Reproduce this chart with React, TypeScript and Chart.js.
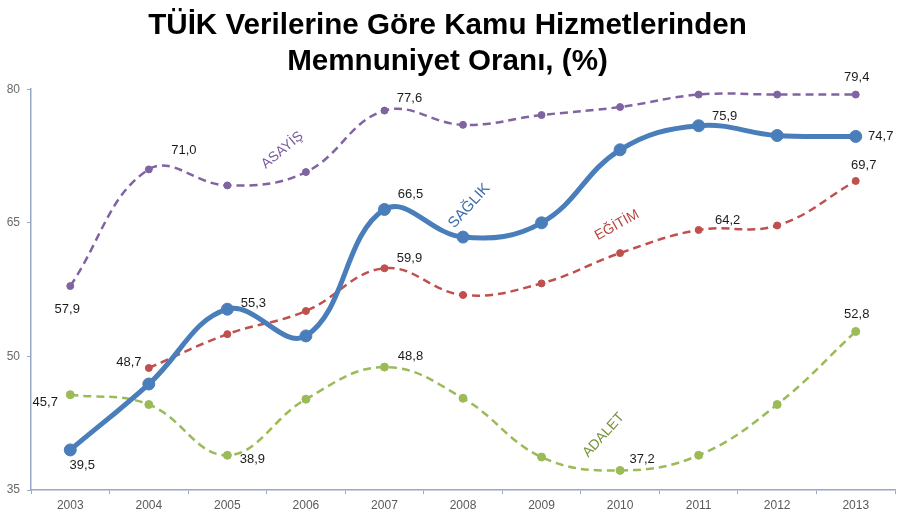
import { useEffect, useRef } from 'react';
import { Chart, registerables } from 'chart.js';

Chart.register(...registerables);

// Survey years
const years = ['2003', '2004', '2005', '2006', '2007', '2008', '2009', '2010', '2011', '2012', '2013'];

// Satisfaction rates (%) per public service
const saglik = [39.5, 46.9, 55.3, 52.3, 66.5, 63.4, 65.0, 73.2, 75.9, 74.8, 74.7];
const asayis = [57.9, 71.0, 69.2, 70.7, 77.6, 76.0, 77.1, 78.0, 79.4, 79.4, 79.4];
const egitim = [null, 48.7, 52.5, 55.1, 59.9, 56.9, 58.2, 61.6, 64.2, 64.7, 69.7];
const adalet = [45.7, 44.6, 38.9, 45.2, 48.8, 45.3, 38.7, 37.2, 38.9, 44.6, 52.8];

const seriesNames = ['SAĞLIK', 'ASAYİŞ', 'EĞİTİM', 'ADALET'];
const yTicks = [35, 50, 65, 80];

const titleLines = ['TÜİK Verilerine Göre Kamu Hizmetlerinden', 'Memnuniyet Oranı, (%)'];

const FONT = "'Liberation Sans', Arial, sans-serif";
const AXIS_COLOR = '#98A8C8';

// Which points carry a value label, and where the label sits relative to the point (px)
const valueLabels: { ds: number; i: number; dx: number; dy: number }[][] = [
  [
    { ds: 0, i: 0, dx: 12, dy: 15 },
    { ds: 0, i: 2, dx: 26, dy: -6 },
    { ds: 0, i: 4, dx: 26, dy: -15 },
    { ds: 0, i: 8, dx: 26, dy: -9 },
    { ds: 0, i: 10, dx: 25, dy: 0 },
  ],
  [
    { ds: 1, i: 0, dx: -3, dy: 23 },
    { ds: 1, i: 1, dx: 35, dy: -19 },
    { ds: 1, i: 4, dx: 25, dy: -12 },
    { ds: 1, i: 10, dx: 1, dy: -17 },
  ],
  [
    { ds: 2, i: 1, dx: -20, dy: -6 },
    { ds: 2, i: 4, dx: 25, dy: -10 },
    { ds: 2, i: 8, dx: 29, dy: -10 },
    { ds: 2, i: 10, dx: 8, dy: -16 },
  ],
  [
    { ds: 3, i: 0, dx: -25, dy: 8 },
    { ds: 3, i: 2, dx: 25, dy: 4 },
    { ds: 3, i: 4, dx: 26, dy: -11 },
    { ds: 3, i: 7, dx: 22, dy: -11 },
    { ds: 3, i: 10, dx: 1, dy: -17 },
  ],
];

// Rotated series names, anchored in data space (category index, value)
const nameTags = [
  { text: seriesNames[0], x: 5.08, y: 66.9, angle: -48, color: '#3D6CA8', size: 15 },
  { text: seriesNames[1], x: 2.7, y: 73.15, angle: -40, color: '#7A5B9E', size: 14 },
  { text: seriesNames[2], x: 6.96, y: 64.74, angle: -29, color: '#B4463F', size: 14 },
  { text: seriesNames[3], x: 6.79, y: 41.17, angle: -48, color: '#76933C', size: 14 },
];

const fmt = (v: number) => v.toFixed(1).replace('.', ',');

const labelPlugin = {
  id: 'seriesLabels',
  afterDatasetsDraw(chart: any) {
    const ctx = chart.ctx;
    ctx.save();
    ctx.textAlign = 'center';
    ctx.textBaseline = 'middle';
    ctx.fillStyle = '#1c1c1c';
    ctx.font = `13px ${FONT}`;
    valueLabels.flat().forEach((l) => {
      const pt = chart.getDatasetMeta(l.ds).data[l.i];
      const v = chart.data.datasets[l.ds].data[l.i];
      if (!pt || v == null) return;
      ctx.fillText(fmt(v), pt.x + l.dx, pt.y + l.dy);
    });
    const xs = chart.scales.x;
    const ys = chart.scales.y;
    nameTags.forEach((t) => {
      const px = xs.getPixelForValue(t.x);
      const py = ys.getPixelForValue(t.y);
      ctx.save();
      ctx.translate(px, py);
      ctx.rotate((t.angle * Math.PI) / 180);
      ctx.fillStyle = t.color;
      ctx.font = `${t.size}px ${FONT}`;
      ctx.fillText(t.text, 0, 0);
      ctx.restore();
    });
    ctx.restore();
  },
};

export default function App() {
  const canvasRef = useRef<HTMLCanvasElement | null>(null);

  useEffect(() => {
    if (!canvasRef.current) return;
    const chart = new Chart(canvasRef.current, {
      type: 'line',
      data: {
        labels: years,
        datasets: [
          {
            label: seriesNames[0],
            data: saglik,
            borderColor: '#4A7EBB',
            backgroundColor: '#4A7EBB',
            borderWidth: 5,
            pointRadius: 6,
            pointBorderWidth: 1,
            tension: 0.4,
          },
          {
            label: seriesNames[1],
            data: asayis,
            borderColor: '#8064A2',
            backgroundColor: '#8064A2',
            borderWidth: 2.5,
            borderDash: [8, 5],
            pointRadius: 3.5,
            pointBorderWidth: 1,
            tension: 0.4,
          },
          {
            label: seriesNames[2],
            data: egitim,
            borderColor: '#C0504D',
            backgroundColor: '#C0504D',
            borderWidth: 2.5,
            borderDash: [8, 5],
            pointRadius: 3.5,
            pointBorderWidth: 1,
            tension: 0.4,
          },
          {
            label: seriesNames[3],
            data: adalet,
            borderColor: '#9BBB59',
            backgroundColor: '#9BBB59',
            borderWidth: 2.5,
            borderDash: [8, 5],
            pointRadius: 4,
            pointBorderWidth: 1,
            tension: 0.4,
          },
        ],
      },
      options: {
        responsive: false,
        animation: false,
        layout: { padding: { left: 0, right: 7, top: 0, bottom: 0 } },
        plugins: {
          legend: { display: false },
          tooltip: { enabled: false },
          title: {
            display: true,
            text: titleLines,
            color: '#000',
            font: { family: FONT, size: 29.6, weight: 'bold', lineHeight: 1.22 },
            padding: { top: 8, bottom: 9 },
          },
        },
        scales: {
          x: {
            offset: true,
            grid: {
              offset: true,
              drawOnChartArea: false,
              color: AXIS_COLOR,
              tickLength: 4,
              tickWidth: 1,
            },
            border: { color: AXIS_COLOR, width: 1.5 },
            ticks: { color: '#5a5a5a', font: { family: FONT, size: 12 }, padding: 4, maxRotation: 0 },
            afterFit: (s: any) => {
              s.height = 27;
            },
          },
          y: {
            min: 35,
            max: 80,
            afterBuildTicks: (s: any) => {
              s.ticks = yTicks.map((v) => ({ value: v }));
            },
            grid: {
              drawOnChartArea: false,
              color: AXIS_COLOR,
              tickLength: 4,
            },
            border: { color: AXIS_COLOR, width: 1.5 },
            ticks: { color: '#6a6a6a', font: { family: FONT, size: 12 }, padding: 7 },
            afterFit: (s: any) => {
              s.width = 31;
            },
          },
        },
      },
      plugins: [labelPlugin],
    });
    return () => chart.destroy();
  }, []);

  return (
    <div style={{ position: 'fixed', left: 0, top: 0, width: 902, height: 517, background: '#fff' }}>
      <canvas ref={canvasRef} width={902} height={517} />
    </div>
  );
}
